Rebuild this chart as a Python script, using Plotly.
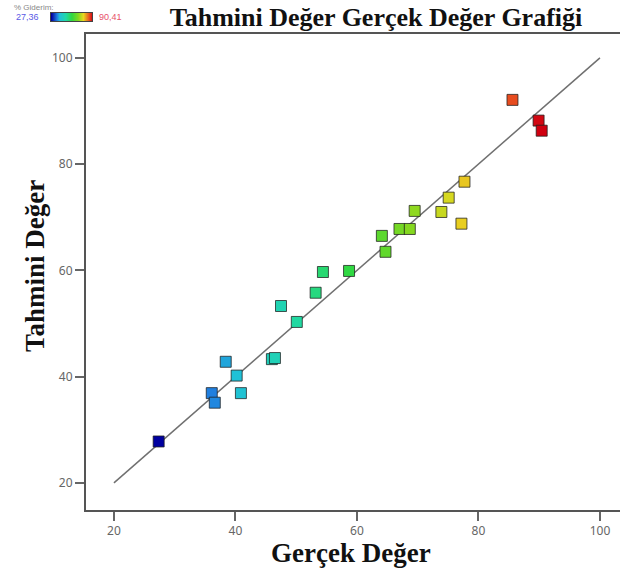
import plotly.graph_objects as go

# Data: actual (Gerçek) vs predicted (Tahmini) values, colour = actual % Giderim
gercek = [27.36, 36.1, 36.6, 38.4, 40.2, 40.9, 46.0, 46.5, 47.5, 50.1, 53.2, 54.4,
          58.7, 64.1, 64.7, 67.0, 68.7, 69.5, 73.9, 75.1, 77.2, 77.7, 85.6, 89.9, 90.41]
tahmini = [27.8, 36.9, 35.1, 42.8, 40.2, 36.9, 43.3, 43.5, 53.3, 50.3, 55.8, 59.7,
           59.9, 66.5, 63.5, 67.8, 67.8, 71.2, 71.0, 73.7, 68.8, 76.7, 92.1, 88.2, 86.3]
cmin, cmax = 27.36, 90.41
line_pts = [20, 100]
x_ticks = [20, 40, 60, 80, 100]
y_ticks = [20, 40, 60, 80, 100]

cscale = [
    [0.0, "#0000A0"], [0.14, "#2080E0"], [0.2, "#20C0D8"], [0.35, "#20D8A8"],
    [0.5, "#30D840"], [0.65, "#80D820"], [0.78, "#E8D820"], [0.92, "#E85020"],
    [1.0, "#D00010"],
]

W, H = 620, 574
L, R, T, B = 86, 620, 34, 510


def fx(x):
    return x / W


def fy(y):
    return 1 - y / H


fig = go.Figure()
fig.add_trace(go.Scatter(x=line_pts, y=line_pts, mode="lines",
                         line=dict(color="#707070", width=1.5),
                         showlegend=False, hoverinfo="skip"))
fig.add_trace(go.Scatter(
    x=gercek, y=tahmini, mode="markers", showlegend=False,
    marker=dict(symbol="square", size=11, color=gercek, colorscale=cscale,
                cmin=cmin, cmax=cmax,
                line=dict(color="rgba(30,30,30,0.75)", width=1),
                showscale=False)))

# small gradient legend bar (top-left)
fig.add_trace(go.Heatmap(z=[[cmin, cmax], [cmin, cmax]], x=[0, 1], y=[0, 1],
                         zsmooth="best", colorscale=cscale, zmin=cmin, zmax=cmax,
                         showscale=False, hoverinfo="skip",
                         xaxis="x2", yaxis="y2"))

fig.add_annotation(text="% Giderim:", x=fx(12), y=fy(1), xref="paper", yref="paper",
                   showarrow=False, xanchor="left", yanchor="top",
                   font=dict(family="Liberation Sans", size=8, color="#888"))
fig.add_annotation(text="27,36", x=fx(14), y=fy(17), xref="paper", yref="paper",
                   showarrow=False, xanchor="left", yanchor="middle",
                   font=dict(family="Liberation Sans", size=9, color="#5A5AE6"))
fig.add_annotation(text="90,41", x=fx(97), y=fy(17), xref="paper", yref="paper",
                   showarrow=False, xanchor="left", yanchor="middle",
                   font=dict(family="Liberation Sans", size=9, color="#E8506A"))

fig.add_annotation(text="<b>Gerçek Değer</b>", xref="paper", yref="paper",
                   x=fx(351), y=fy(553), showarrow=False,
                   xanchor="center", yanchor="middle",
                   font=dict(family="Liberation Serif", size=27, color="#111"))
fig.add_annotation(text="<b>Tahmini Değer</b>", xref="paper", yref="paper",
                   x=fx(35), y=fy(266), showarrow=False,
                   textangle=-90, xanchor="center", yanchor="middle",
                   font=dict(family="Liberation Serif", size=27, color="#111"))

fig.update_layout(
    width=W, height=H,
    margin=dict(l=0, r=0, t=0, b=0),
    paper_bgcolor="white", plot_bgcolor="white",
    title=dict(text="<b>Tahmini Değer Gerçek Değer Grafiği</b>", x=fx(376), xanchor="center",
               y=fy(17), yanchor="middle",
               font=dict(family="Liberation Serif", size=26, color="#111")),
    xaxis=dict(domain=[fx(L), fx(R)], range=[15.4, 103.3], tickvals=x_ticks,
               showgrid=False, zeroline=False,
               showline=True, linecolor="#555", linewidth=2, mirror=True,
               ticks="outside", ticklen=9, tickcolor="#666", tickwidth=1.5,
               tickfont=dict(family="Noto Sans", size=12, color="#666")),
    yaxis=dict(domain=[fy(B), fy(T)], range=[14.9, 104.5], tickvals=y_ticks,
               showgrid=False, zeroline=False,
               showline=True, linecolor="#555", linewidth=2,
               ticks="outside", ticklen=9, tickcolor="#666", tickwidth=1.5,
               tickfont=dict(family="Noto Sans", size=12, color="#666")),
    xaxis2=dict(domain=[fx(51), fx(92)], range=[0, 1], anchor="y2",
                showticklabels=False, ticks="", showgrid=False, zeroline=False,
                showline=True, linecolor="#444", linewidth=1, mirror=True),
    yaxis2=dict(domain=[fy(21), fy(13)], range=[0, 1], anchor="x2",
                showticklabels=False, ticks="", showgrid=False, zeroline=False,
                showline=True, linecolor="#444", linewidth=1, mirror=True),
)

fig.write_html("out.html")
